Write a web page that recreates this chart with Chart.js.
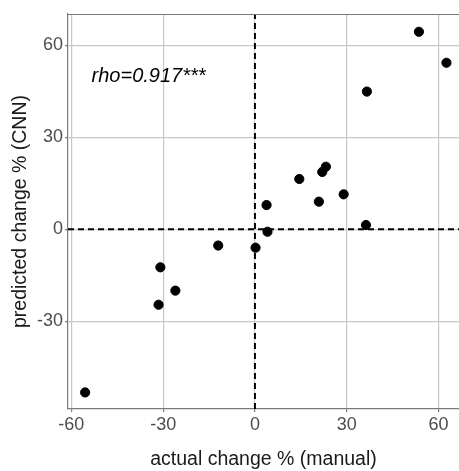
<!DOCTYPE html>
<html lang="en">
<head>
    <meta charset="UTF-8">
    <title>Actual vs predicted change</title>
    <script src="https://cdn.jsdelivr.net/npm/chart.js"></script>
    <style>
        body {
            margin: 0;
            padding: 0;
            background: #ffffff;
        }
        .chart-container {
            width: 459px;
            height: 471px;
        }
    </style>
</head>
<body>
    <div class="chart-container">
        <canvas id="scatterChart"></canvas>
    </div>

    <script>
        // actual change % (manual) vs predicted change % (CNN)
        const actualChange = [53.6, 62.6, 36.6, 23.2, 22.0, 14.5, 29.0, 20.9, 3.8, 36.3, 4.1, 0.2, -12.0, -30.9, -26.0, -31.5, -55.5];
        const predictedChange = [64.4, 54.3, 44.9, 20.4, 18.7, 16.4, 11.4, 9.0, 7.9, 1.4, -0.8, -6.0, -5.3, -12.4, -20.0, -24.6, -53.2];

        const xTicks = [-60, -30, 0, 30, 60];
        const yTicks = [-30, 0, 30, 60];
        const xRange = [-61.1, 66.7];
        const yRange = [-58.6, 70.2];

        const rhoLabel = 'rho=0.917***';
        const rhoPos = { x: -53.4, y: 49.7 };

        const points = actualChange.map((x, i) => ({ x: x, y: predictedChange[i] }));

        // top border + correlation label
        const extras = {
            id: 'extras',
            afterDraw(chart) {
                const ctx = chart.ctx;
                const area = chart.chartArea;
                ctx.save();
                ctx.strokeStyle = '#7a7a7a';
                ctx.lineWidth = 1.2;
                ctx.beginPath();
                ctx.moveTo(area.left, area.top + 0.5);
                ctx.lineTo(area.right, area.top + 0.5);
                ctx.stroke();

                ctx.font = 'italic 20px "Liberation Sans", Arial, sans-serif';
                ctx.fillStyle = '#000000';
                ctx.textBaseline = 'middle';
                ctx.textAlign = 'left';
                ctx.fillText(rhoLabel, chart.scales.x.getPixelForValue(rhoPos.x), chart.scales.y.getPixelForValue(rhoPos.y));
                ctx.restore();
            }
        };

        const ctx = document.getElementById('scatterChart').getContext('2d');
        new Chart(ctx, {
            type: 'scatter',
            data: {
                datasets: [
                    {
                        type: 'line',
                        data: [{ x: 0, y: yRange[0] }, { x: 0, y: yRange[1] }],
                        borderColor: '#000000',
                        borderWidth: 2,
                        borderDash: [6, 4],
                        pointRadius: 0,
                        fill: false
                    },
                    {
                        type: 'line',
                        data: [{ x: xRange[0], y: 0 }, { x: xRange[1], y: 0 }],
                        borderColor: '#000000',
                        borderWidth: 2,
                        borderDash: [6, 4],
                        pointRadius: 0,
                        fill: false
                    },
                    {
                        data: points,
                        backgroundColor: '#000000',
                        borderColor: '#000000',
                        pointRadius: 4.6,
                        pointHoverRadius: 4.6
                    }
                ]
            },
            options: {
                responsive: true,
                maintainAspectRatio: false,
                animation: false,
                layout: {
                    autoPadding: false,
                    padding: { top: 14, right: 0, bottom: 0, left: 0 }
                },
                plugins: {
                    legend: { display: false },
                    tooltip: { enabled: false }
                },
                scales: {
                    x: {
                        type: 'linear',
                        min: xRange[0],
                        max: xRange[1],
                        afterBuildTicks: scale => { scale.ticks = xTicks.map(v => ({ value: v })); },
                        afterFit: scale => {
                            scale.height = 62;
                            scale.paddingLeft = 0;
                            scale.paddingRight = 0;
                        },
                        border: { color: '#7a7a7a', width: 1.2 },
                        grid: { color: '#c8c8c8', lineWidth: 1.2, tickLength: 3, tickColor: '#7a7a7a' },
                        ticks: {
                            color: '#4d4d4d',
                            padding: 2,
                            maxRotation: 0,
                            font: { family: '"Liberation Sans", Arial, sans-serif', size: 18 }
                        },
                        title: {
                            display: true,
                            text: 'actual change % (manual)',
                            color: '#1a1a1a',
                            padding: 0,
                            font: { family: '"Liberation Sans", Arial, sans-serif', size: 19.5 }
                        }
                    },
                    y: {
                        type: 'linear',
                        min: yRange[0],
                        max: yRange[1],
                        afterBuildTicks: scale => { scale.ticks = yTicks.map(v => ({ value: v })); },
                        afterFit: scale => {
                            scale.width = 68;
                            scale.paddingTop = 0;
                            scale.paddingBottom = 0;
                        },
                        border: { color: '#7a7a7a', width: 1.2 },
                        grid: { color: '#c8c8c8', lineWidth: 1.2, tickLength: 3, tickColor: '#7a7a7a' },
                        ticks: {
                            color: '#4d4d4d',
                            padding: 2,
                            font: { family: '"Liberation Sans", Arial, sans-serif', size: 18 }
                        },
                        title: {
                            display: true,
                            text: 'predicted change % (CNN)',
                            color: '#1a1a1a',
                            padding: { top: 9, bottom: 0 },
                            font: { family: '"Liberation Sans", Arial, sans-serif', size: 19.5 }
                        }
                    }
                }
            },
            plugins: [extras]
        });
    </script>
</body>
</html>
